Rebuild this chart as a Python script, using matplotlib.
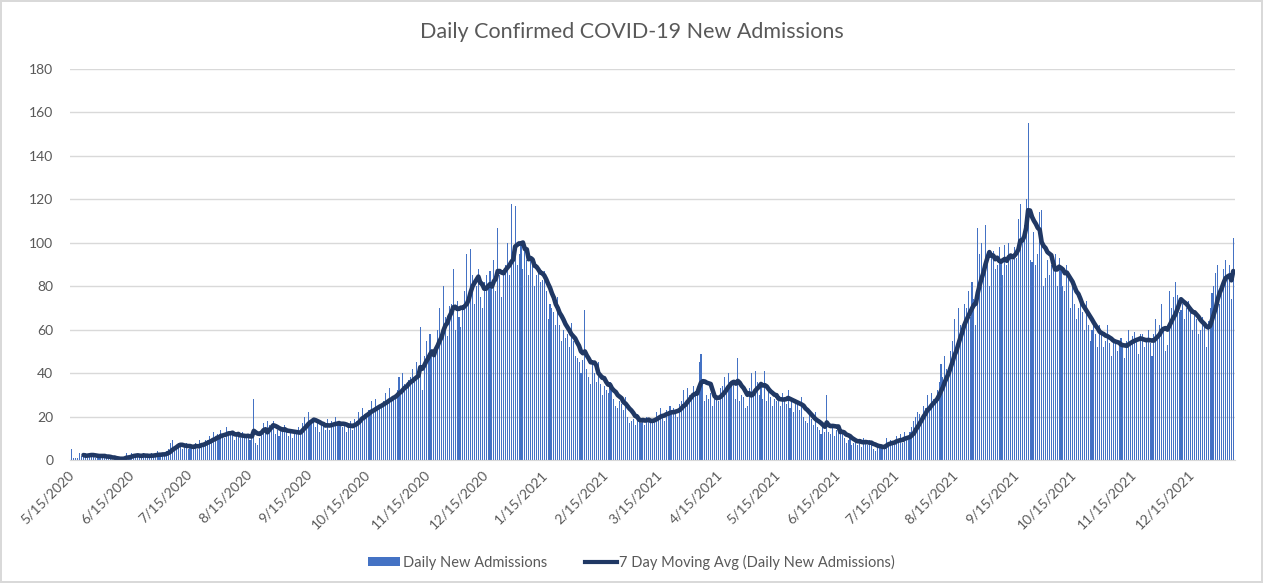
import numpy as np
import pandas as pd
import matplotlib
matplotlib.use("Agg")
import matplotlib.pyplot as plt
from matplotlib.patches import Patch
from matplotlib.lines import Line2D

# daily new admissions, 5/15/2020 onward (one row = one week)
admissions = [
    5, 1, 1, 1, 3, 2, 3,
    3, 1, 2, 2, 3, 1, 2,
    2, 1, 2, 2, 1, 1, 1,
    0, 1, 0, 1, 0, 1, 1,
    3, 2, 1, 3, 2, 2, 2,
    2, 1, 3, 2, 2, 1, 3,
    2, 2, 4, 3, 2, 2, 3,
    4, 5, 8, 9, 6, 6, 8,
    7, 5, 6, 8, 5, 6, 6,
    6, 8, 5, 9, 8, 7, 9,
    9, 11, 8, 13, 10, 12, 10,
    14, 12, 10, 15, 13, 12, 12,
    9, 11, 12, 10, 13, 11, 11,
    10, 9, 12, 28, 8, 7, 10,
    14, 17, 15, 18, 16, 14, 18,
    12, 14, 11, 15, 13, 16, 14,
    11, 13, 10, 14, 12, 15, 13,
    17, 20, 16, 22, 18, 19, 18,
    15, 17, 13, 18, 16, 14, 19,
    14, 18, 15, 20, 17, 16, 16,
    15, 17, 13, 16, 18, 14, 19,
    18, 22, 19, 24, 21, 20, 23,
    23, 27, 22, 28, 25, 24, 26,
    27, 31, 26, 33, 28, 29, 29,
    32, 38, 30, 40, 35, 33, 37,
    38, 42, 36, 45, 40, 61, 32,
    48, 55, 46, 58, 50, 49, 51,
    60, 70, 58, 80, 66, 57, 71,
    72, 88, 60, 73, 66, 61, 70,
    78, 95, 74, 97, 85, 72, 80,
    88, 75, 70, 82, 85, 80, 87,
    80, 92, 78, 107, 85, 75, 85,
    90, 100, 85, 118, 93, 117, 90,
    95, 100, 88, 97, 92, 85, 94,
    90, 80, 85, 88, 82, 83, 87,
    78, 65, 72, 70, 68, 62, 75,
    62, 55, 60, 56, 58, 52, 63,
    55, 48, 47, 45, 40, 46, 69,
    42, 38, 35, 44, 40, 36, 45,
    35, 30, 34, 32, 31, 36, 33,
    28, 25, 24, 27, 26, 23, 29,
    20, 17, 18, 19, 16, 21, 19,
    17, 19, 16, 20, 18, 17, 19,
    19, 22, 20, 24, 21, 18, 23,
    21, 25, 22, 24, 23, 20, 26,
    27, 32, 26, 33, 30, 28, 34,
    30, 33, 45, 49, 35, 27, 30,
    28, 31, 25, 30, 29, 27, 33,
    34, 38, 33, 40, 36, 35, 36,
    28, 47, 27, 30, 29, 24, 25,
    33, 40, 31, 41, 36, 30, 34,
    28, 41, 27, 32, 29, 25, 28,
    27, 30, 25, 31, 29, 26, 32,
    24, 27, 22, 28, 26, 23, 29,
    20, 18, 17, 21, 19, 16, 22,
    15, 14, 12, 15, 13, 30, 13,
    12, 15, 11, 14, 13, 12, 14,
    10, 8, 9, 11, 7, 8, 10,
    7, 9, 6, 10, 8, 7, 9,
    7, 5, 4, 7, 6, 6, 7,
    7, 10, 8, 9, 8, 7, 11,
    9, 12, 8, 13, 10, 9, 13,
    15, 18, 20, 22, 21, 19, 25,
    24, 30, 25, 31, 28, 26, 32,
    36, 44, 38, 48, 42, 40, 50,
    55, 65, 52, 70, 62, 58, 72,
    70, 78, 66, 82, 74, 62, 107,
    95, 100, 85, 108, 95, 80, 95,
    96, 88, 90, 98, 92, 85, 99,
    90, 100, 95, 92, 98, 93, 111,
    118, 100, 108, 120, 155, 92, 91,
    105, 90, 95, 114, 115, 80, 84,
    92, 85, 90, 88, 95, 80, 93,
    88, 80, 78, 90, 85, 70, 83,
    72, 65, 70, 75, 68, 60, 73,
    62, 55, 60, 64, 58, 52, 62,
    58, 52, 55, 62, 54, 48, 56,
    55, 50, 53, 56, 52, 47, 55,
    60, 54, 57, 59, 55, 49, 58,
    58, 52, 55, 60, 54, 48, 58,
    65, 58, 62, 72, 60, 50, 53,
    78, 70, 75, 82, 76, 68, 69,
    72, 65, 70, 73, 68, 60, 68,
    65, 58, 60, 66, 62, 52, 64,
    70, 77, 80, 86, 90, 72, 78,
    88, 92, 85, 90, 74, 102,
]
start_date = "2020-05-15"
tick_dates = pd.date_range("2020-05-01", "2021-12-01", freq="MS") + pd.Timedelta(days=14)

df = pd.DataFrame({"admissions": admissions})
df["date"] = pd.date_range(start_date, periods=len(df), freq="D")
df["avg7"] = df["admissions"].rolling(7).mean()

x = np.arange(len(df))
tick_pos = [(d - df["date"].iloc[0]).days for d in tick_dates]
tick_lbl = [f"{d.month}/{d.day}/{d.year}" for d in tick_dates]

plt.rcParams["font.family"] = ["Lato", "DejaVu Sans"]
gray = "#595959"

fig = plt.figure(figsize=(12.63, 5.83), dpi=100)
fig.patch.set_edgecolor("#D9D9D9")
fig.patch.set_linewidth(1.5)
ax = fig.add_axes([0.0554, 0.211, 0.9226, 0.6706])

ax.bar(x, df["admissions"], width=0.55, color="#4472C4", linewidth=0)
ax.plot(x, df["avg7"], color="#203864", linewidth=3.3, solid_capstyle="round")

ax.set_ylim(0, 180)
ax.set_yticks(np.arange(0, 181, 20))
ax.set_xlim(-1, 601)
ax.set_xticks(tick_pos)
ax.set_xticklabels(tick_lbl, rotation=45, ha="right", va="center", rotation_mode="anchor")
ax.tick_params(axis="both", length=0, labelsize=10, colors=gray)
ax.tick_params(axis="x", pad=9)
ax.tick_params(axis="y", pad=12)
ax.grid(axis="y", color="#D9D9D9", linewidth=1)
ax.set_axisbelow(True)
for s in ["top", "right", "left"]:
    ax.spines[s].set_visible(False)
ax.spines["bottom"].set_color("#D9D9D9")

fig.text(0.5, 0.945, "Daily Confirmed COVID-19 New Admissions", ha="center", va="center",
         fontsize=15.5, color=gray)

handles = [Patch(facecolor="#4472C4", edgecolor="none"),
           Line2D([0], [0], color="#203864", linewidth=3)]
fig.legend(handles, ["Daily New Admissions", "7 Day Moving Avg (Daily New Admissions)"],
           loc="center", bbox_to_anchor=(0.5, 0.036), ncol=2, frameon=False,
           fontsize=10.5, labelcolor=gray, handlelength=2.2, handleheight=0.6,
           handletextpad=0.15, columnspacing=2.6)

fig.savefig("out.png", dpi=100)
